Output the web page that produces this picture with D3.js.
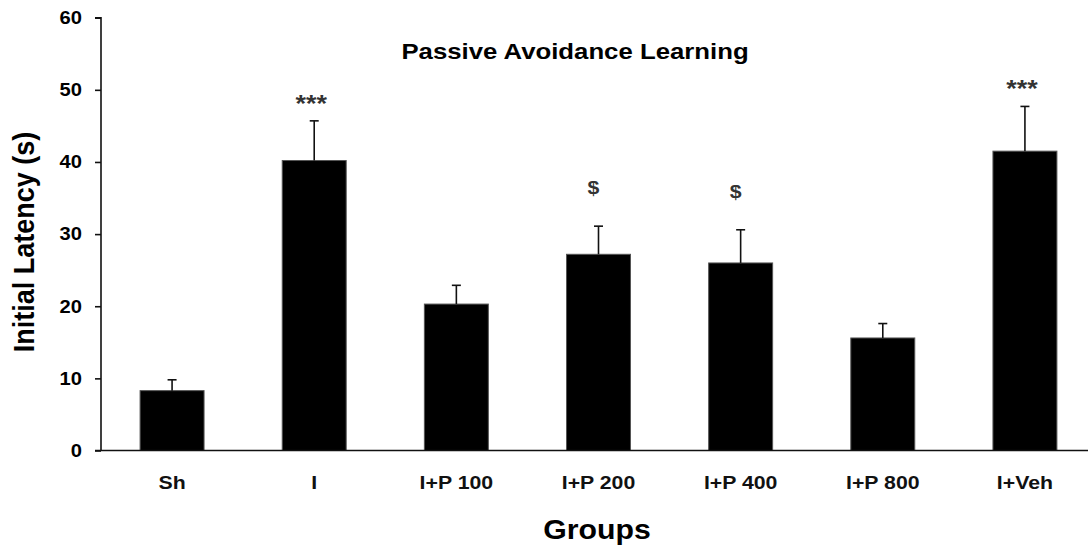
<!DOCTYPE html>
<html>
<head>
<meta charset="utf-8">
<script src="https://cdn.jsdelivr.net/npm/d3@7"></script>
<style>
  body { margin: 0; background: #fff; }
  svg { display: block; }
  text { font-family: "Liberation Sans", Arial, sans-serif; font-weight: bold; }
</style>
</head>
<body>
<svg id="chart" width="1088" height="549"></svg>
<script>
'use strict';

const groups = ['Sh', 'I', 'I+P 100', 'I+P 200', 'I+P 400', 'I+P 800', 'I+Veh'];
const latency = [8.3, 40.2, 20.3, 27.2, 26.0, 15.6, 41.5];
const sem = [1.5, 5.5, 2.6, 3.9, 4.6, 2.0, 6.2];
const marks = ['', '***', '', '$', '$', '', '***'];
const yTicks = [0, 10, 20, 30, 40, 50, 60];

// the original lettering is a bit wider than Arial, stretch text horizontally
const STRETCH = 1.12;

const data = groups.map(function(g, i) {
  return { group: g, value: latency[i], err: sem[i], mark: marks[i] };
});

const svg = d3.select('#chart');
const plotLeft = 101, plotRight = 1096, plotTop = 17.7, plotBottom = 450.5;

let x = d3.scaleBand()
  .domain(groups)
  .range([plotLeft, plotRight])
  .paddingInner(0.55)
  .paddingOuter(0.275);

let y = d3.scaleLinear()
  .domain([0, 60])
  .range([plotBottom, plotTop]);

function center(d) { return x(d.group) + x.bandwidth() / 2; }

// y axis
let yAxis = svg.append('g')
  .attr('transform', 'translate(' + plotLeft + ',0)')
  .call(d3.axisLeft(y).tickValues(yTicks).tickSize(6).tickPadding(13));
yAxis.select('.domain').attr('stroke', '#111').attr('stroke-width', 1.6)
  .attr('d', 'M-6,' + plotTop + 'H0V' + plotBottom);
yAxis.selectAll('.tick line').attr('stroke', '#111').attr('stroke-width', 1.6);
yAxis.selectAll('.tick text')
  .attr('font-size', 18)
  .attr('fill', '#000')
  .attr('x', -19 / STRETCH)
  .attr('transform', 'scale(' + STRETCH + ',1)');

// bars
svg.append('g').selectAll('rect')
  .data(data)
  .enter().append('rect')
    .attr('x', function(d) { return x(d.group); })
    .attr('y', function(d) { return y(d.value); })
    .attr('width', x.bandwidth())
    .attr('height', function(d) { return y(0) - y(d.value); })
    .attr('fill', '#000')
    .attr('stroke', '#555')
    .attr('stroke-width', 1);

// error bars (upper only)
let err = svg.append('g').selectAll('g')
  .data(data)
  .enter().append('g')
    .attr('stroke', '#111')
    .attr('stroke-width', 1.6);
err.append('line')
  .attr('x1', center)
  .attr('x2', center)
  .attr('y1', function(d) { return y(d.value); })
  .attr('y2', function(d) { return y(d.value + d.err); });
err.append('line')
  .attr('x1', function(d) { return center(d) - 4.5; })
  .attr('x2', function(d) { return center(d) + 4.5; })
  .attr('y1', function(d) { return y(d.value + d.err); })
  .attr('y2', function(d) { return y(d.value + d.err); });

// significance marks
svg.append('g').selectAll('text')
  .data(data.filter(function(d) { return d.mark; }))
  .enter().append('text')
    .attr('transform', function(d) {
      let dy = d.mark === '$' ? 32 : 9;
      let dx = d.mark === '$' ? -5 : -3;
      return 'translate(' + (center(d) + dx) + ',' + (y(d.value + d.err) - dy) + ') scale(' + STRETCH + ',1)';
    })
    .attr('text-anchor', 'middle')
    .attr('font-size', function(d) { return d.mark === '$' ? 19 : 24; })
    .attr('fill', '#333')
    .text(function(d) { return d.mark; });

// x axis
let xAxis = svg.append('g')
  .attr('transform', 'translate(0,' + plotBottom + ')')
  .call(d3.axisBottom(x).tickSize(0).tickPadding(25));
xAxis.select('.domain').attr('stroke', '#111').attr('stroke-width', 1.6)
  .attr('d', 'M' + (plotLeft - 6) + ',0H1088');
xAxis.selectAll('.tick text')
  .attr('font-size', 19)
  .attr('fill', '#111')
  .attr('transform', 'scale(' + STRETCH + ',1)');

// titles
svg.append('text')
  .attr('transform', 'translate(575,59) scale(' + STRETCH + ',1)')
  .attr('text-anchor', 'middle')
  .attr('font-size', 23)
  .text('Passive Avoidance Learning');

svg.append('text')
  .attr('transform', 'translate(597,539) scale(' + STRETCH + ',1)')
  .attr('text-anchor', 'middle')
  .attr('font-size', 27)
  .text('Groups');

svg.append('text')
  .attr('transform', 'translate(34,242) rotate(-90) scale(1,' + STRETCH + ')')
  .attr('text-anchor', 'middle')
  .attr('font-size', 27)
  .text('Initial Latency (s)');
</script>
</body>
</html>
